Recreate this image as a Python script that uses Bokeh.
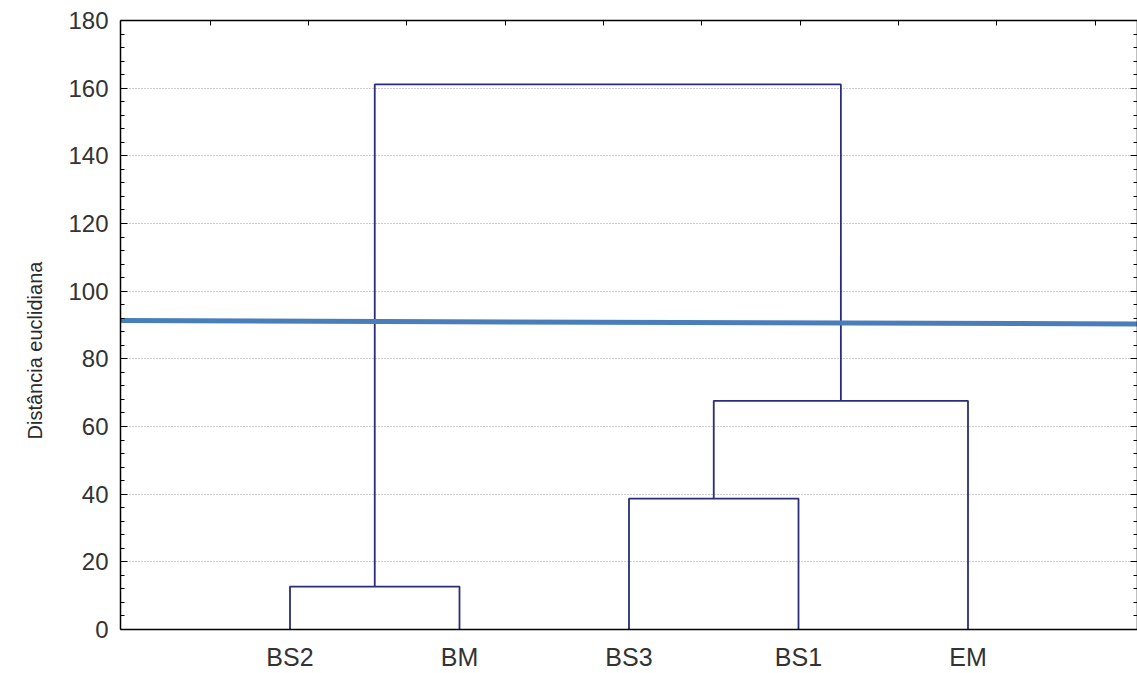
from bokeh.plotting import figure
from bokeh.models import LinearAxis, FixedTicker, Range1d, Title
from bokeh.embed import file_html
from bokeh.resources import INLINE

# ---- data ----
leaves = ["BS2", "BM", "BS3", "BS1", "EM"]
# linkage: cluster ids 0..4 are leaves, 5.. are merges in order
merge_left = [0, 2, 6, 5]
merge_right = [1, 3, 4, 7]
merge_height = [12.7, 38.7, 67.6, 161.1]
cut_x = [0, 6]
cut_y = [91.3, 90.3]
y_ticks = [0, 20, 40, 60, 80, 100, 120, 140, 160, 180]
top_ticks = [0.53, 1.11, 1.69, 2.27, 2.85, 3.43, 4.01, 4.59, 5.17, 5.75]
y_title = "Distância euclidiana"

# ---- dendrogram geometry from linkage ----
node_x = [i + 1 for i in range(len(leaves))]
node_h = [0.0] * len(leaves)
xs, ys = [], []
for a, b, h in zip(merge_left, merge_right, merge_height):
    xa, ha, xb, hb = node_x[a], node_h[a], node_x[b], node_h[b]
    xs.append([xa, xa, xb, xb])
    ys.append([ha, h, h, hb])
    node_x.append((xa + xb) / 2)
    node_h.append(h)

FONT = "Liberation Sans"
minor = [v for v in range(0, 181, 4)]

p = figure(width=1137, height=673, output_backend="svg", toolbar_location=None,
           x_range=Range1d(0, 6), y_range=Range1d(0, 180),
           min_border_left=120, min_border_top=20, min_border_right=0,
           min_border_bottom=43)
p.background_fill_color = "white"
p.border_fill_color = "white"
p.outline_line_color = None

p.xgrid.visible = False
p.ygrid.ticker = FixedTicker(ticks=y_ticks)
p.ygrid.grid_line_color = "#a0a0a0"
p.ygrid.grid_line_dash = "1 2"
p.ygrid.grid_line_width = 1

# bottom axis
xa = p.xaxis[0]
xa.ticker = FixedTicker(ticks=list(range(1, len(leaves) + 1)))
xa.major_label_overrides = {i + 1: n for i, n in enumerate(leaves)}
xa.major_tick_in = 0
xa.major_tick_out = 0
xa.minor_tick_in = 0
xa.minor_tick_out = 0
xa.axis_line_color = "black"
xa.axis_line_width = 1.5
xa.major_label_text_font = FONT
xa.major_label_text_font_size = "25px"
xa.major_label_text_color = "#333333"
xa.major_label_standoff = 13

# left axis
ya = p.yaxis[0]
ya.ticker = FixedTicker(ticks=y_ticks, minor_ticks=minor)
ya.major_tick_in = 7
ya.major_tick_out = 0
ya.minor_tick_in = 4
ya.minor_tick_out = 0
ya.major_tick_line_color = "black"
ya.minor_tick_line_color = "black"
ya.axis_line_color = "black"
ya.axis_line_width = 1.5
ya.major_label_text_font = FONT
ya.major_label_text_font_size = "24px"
ya.major_label_text_color = "#333333"
ya.major_label_standoff = 12

# y title as a left-side title so it can be shifted down a little
yt = Title(text=y_title, align="left", offset=190,
           text_font=FONT, text_font_size="20px", text_font_style="normal",
           text_color="#2a2a2a", standoff=40)
p.add_layout(yt, "left")

# right axis (ticks only)
ra = LinearAxis(ticker=FixedTicker(ticks=y_ticks, minor_ticks=minor))
ra.major_tick_in = 7
ra.major_tick_out = 0
ra.minor_tick_in = 4
ra.minor_tick_out = 0
ra.major_label_overrides = {t: "" for t in y_ticks}
ra.major_label_text_font_size = "1px"
ra.major_label_standoff = 0
ra.axis_line_width = 1.5
p.add_layout(ra, "right")

# top axis (ticks only)
ta = LinearAxis(ticker=FixedTicker(ticks=top_ticks))
ta.major_tick_in = 5
ta.major_tick_out = 0
ta.minor_tick_in = 0
ta.minor_tick_out = 0
ta.major_label_overrides = {t: "" for t in top_ticks}
ta.major_label_text_font_size = "1px"
ta.major_label_standoff = 0
ta.axis_line_width = 1.5
p.add_layout(ta, "above")

# dendrogram
p.multi_line(xs, ys, line_color="#2b2d7a", line_width=1.8)

# cut line
p.line(cut_x, cut_y, line_color="#4a7ebb", line_width=5)

open("out.html", "w").write(file_html(p, INLINE))
